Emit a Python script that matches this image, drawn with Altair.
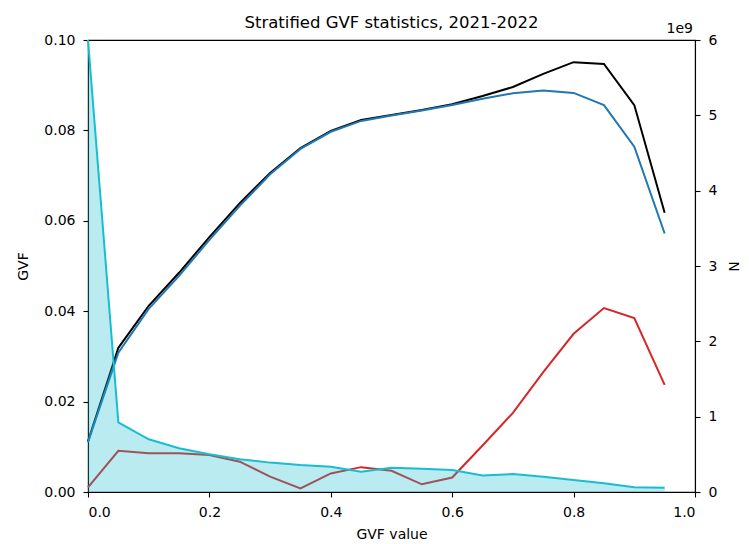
import altair as alt
import pandas as pd

gvf_value = [0.0, 0.05, 0.1, 0.15, 0.2, 0.25, 0.3, 0.35, 0.4, 0.45, 0.5,
             0.55, 0.6, 0.65, 0.7, 0.75, 0.8, 0.85, 0.9, 0.95]

gvf_black = [0.0112, 0.0319, 0.0412, 0.0485, 0.0564, 0.0639, 0.0706, 0.0761, 0.0799, 0.0823, 0.0834,
             0.0845, 0.0858, 0.0876, 0.0896, 0.0925, 0.0951, 0.0947, 0.0856, 0.0618]
gvf_blue = [0.0110, 0.0308, 0.0405, 0.0478, 0.0558, 0.0633, 0.0703, 0.0759, 0.0797, 0.0821, 0.0833,
            0.0844, 0.0856, 0.0870, 0.0882, 0.0888, 0.0883, 0.0856, 0.0764, 0.0572]
gvf_red = [0.0010, 0.0091, 0.0086, 0.0086, 0.0082, 0.0067, 0.0034, 0.0008, 0.0041, 0.0055, 0.0047,
           0.0017, 0.0032, 0.0103, 0.0175, 0.0265, 0.0350, 0.0407, 0.0385, 0.0237]
n_count_1e9 = [6.0, 0.925, 0.70, 0.58, 0.50, 0.434, 0.39, 0.358, 0.336, 0.27, 0.323,
               0.31, 0.292, 0.22, 0.239, 0.203, 0.16, 0.115, 0.062, 0.057]

series_names = ["black", "blue", "red"]
series_colors = ["#000000", "#1f77b4", "#d62728"]

title_text = "Stratified GVF statistics, 2021-2022"
offset_text = "1e9"

rows = []
for name, vals in zip(series_names, [gvf_black, gvf_blue, gvf_red]):
    for xv, yv in zip(gvf_value, vals):
        rows.append({"x": xv, "y": yv, "s": name})
df_lines = pd.DataFrame(rows)
df_n = pd.DataFrame({"x": gvf_value, "n": n_count_1e9})

FONT = "DejaVu Sans"
W, H = 607, 452

xenc = alt.X("x:Q", scale=alt.Scale(domain=[0, 1], nice=False),
             axis=alt.Axis(title="GVF value", values=[0, 0.2, 0.4, 0.6, 0.8, 1.0], format=".1f",
                           titlePadding=8))

left = alt.Chart(df_lines).mark_line(strokeWidth=2).encode(
    x=xenc,
    y=alt.Y("y:Q", scale=alt.Scale(domain=[0, 0.1], nice=False),
            axis=alt.Axis(title="GVF", values=[0, 0.02, 0.04, 0.06, 0.08, 0.1], format=".2f",
                          orient="left", titlePadding=13)),
    color=alt.Color("s:N", scale=alt.Scale(domain=series_names, range=series_colors), legend=None),
    order=alt.Order("x:Q"),
)

yright = alt.Y("n:Q", scale=alt.Scale(domain=[0, 6], nice=False),
               axis=alt.Axis(title="N", values=[0, 1, 2, 3, 4, 5, 6], format="d", orient="right",
                             titlePadding=9))

area = alt.Chart(df_n).mark_area(color="#17becf", opacity=0.3).encode(x="x:Q", y=yright)
nline = alt.Chart(df_n).mark_line(color="#17becf", strokeWidth=2).encode(x="x:Q", y=yright)
right = alt.layer(area, nline)

offset = alt.Chart(pd.DataFrame({"t": [offset_text]})).mark_text(
    align="right", baseline="alphabetic", font=FONT, fontSize=14, color="#000000"
).encode(text="t:N", x=alt.value(W - 2), y=alt.value(-7))

title = alt.Chart(pd.DataFrame({"t": [title_text]})).mark_text(
    align="center", baseline="alphabetic", font=FONT, fontSize=16.5, color="#000000"
).encode(text="t:N", x=alt.value(W / 2), y=alt.value(-12))

chart = alt.layer(left, right, offset, title).resolve_scale(y="independent").properties(
    width=W, height=H,
    autosize=alt.AutoSizeParams(type="none"),
    padding={"left": 80, "top": 32, "right": 46, "bottom": 50},
).configure_view(stroke="#000000", strokeWidth=1.1).configure_axis(
    grid=False, domainColor="#000000", domainWidth=1.1, tickColor="#000000", tickSize=5,
    tickWidth=1.1, labelFont=FONT, labelFontSize=14, labelColor="#000000", titleFont=FONT,
    titleFontSize=14, titleFontWeight="normal", titleColor="#000000", labelPadding=8,
)

chart.save("out.html", embed_options={"renderer": "svg", "actions": False})
